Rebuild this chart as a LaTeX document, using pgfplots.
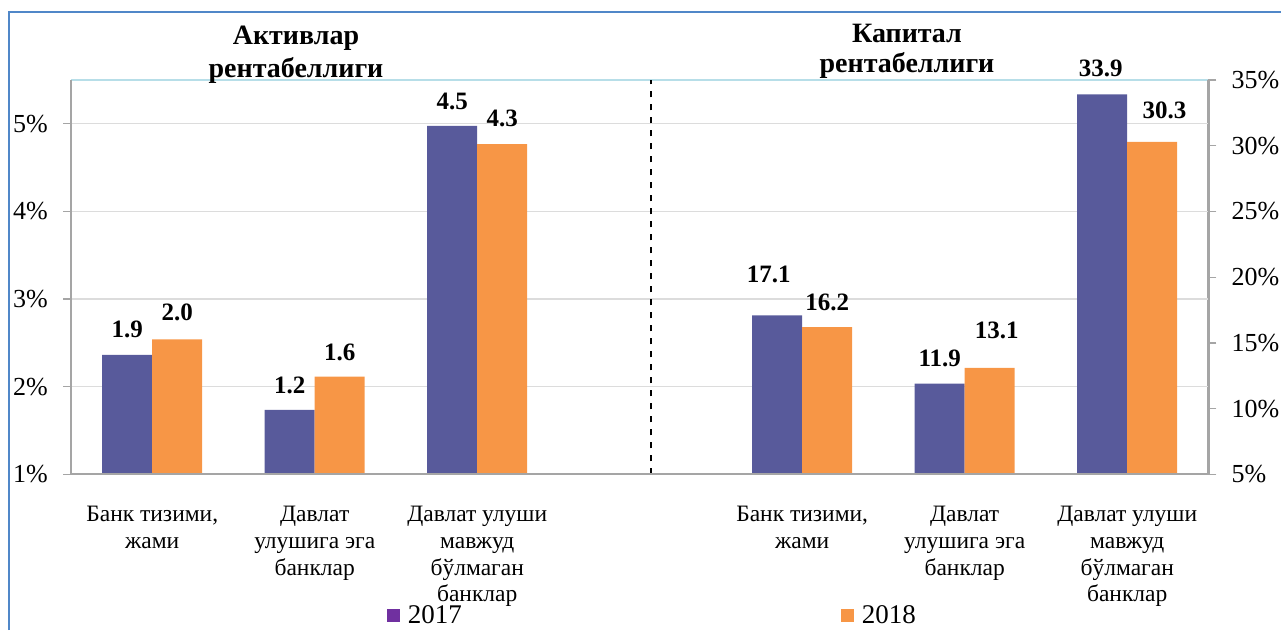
\documentclass[border=0pt]{standalone}
\usepackage{fontspec}
\setmainfont{Liberation Serif}
\usepackage{pgfplots}
\usepackage{pgfplotstable}
\pgfplotsset{compat=1.18}

\definecolor{barA}{RGB}{88,90,155}
\definecolor{barB}{RGB}{247,150,70}
\definecolor{legA}{RGB}{112,48,160}
\definecolor{axgrey}{RGB}{165,165,165}
\definecolor{gridgrey}{RGB}{220,220,220}
\definecolor{topblue}{RGB}{183,222,232}
\definecolor{frameblue}{RGB}{80,135,200}

% left panel (bar heights as drawn on the left scale, labels as printed)
% dx = horizontal label offset from the category centre (pt), dy = gap above bar (pt)
\pgfplotstableread{
x y lab dx dy
0 2.362 1.9 -25 17.5
1 1.734 1.2 -25 16.7
2 4.976 4.5 -25 16.8
}\leftA
\pgfplotstableread{
x y lab dx dy
0 2.541 2.0 25 18.5
1 2.114 1.6 25 16
2 4.767 4.3 25 17.5
}\leftB
% right panel
\pgfplotstableread{
x y lab dx dy
4 17.1 17.1 -33.5 33
5 11.9 11.9 -25 16.7
6 33.9 33.9 -26.5 18.3
}\rightA
\pgfplotstableread{
x y lab dx dy
4 16.2 16.2 25 16.3
5 13.1 13.1 32 29
6 30.3 30.3 37.3 23.3
}\rightB

\pgfplotsset{
  lbl/.style={
    nodes near coords={\pgfplotspointmeta},
    point meta=explicit symbolic,
    visualization depends on={\thisrow{dx} \as \dx},
    visualization depends on={\thisrow{dy} \as \dy},
    every node near coord/.append style={font=\bfseries\fontsize{25}{28}\selectfont,
      anchor=base, inner sep=0pt, xshift=\dx pt, yshift=\dy pt, text=black},
  },
  common/.style={
    at={(71pt,155.7pt)}, anchor=south west,
    width=1137.5pt, height=394.3pt, scale only axis,
    xmin=-0.5, xmax=6.5,
    bar width=50pt,
    tick align=outside, major tick length=8pt,
    ytick style={axgrey, line width=1.3pt},
    yticklabel style={font=\fontsize{26}{30}\selectfont, inner sep=0pt},
  },
}

\begin{document}
\begin{tikzpicture}
\path[use as bounding box] (0pt,0pt) rectangle (1281pt,630pt);

% right scale: grid, right bars, right axis, top line
\begin{axis}[common,
  ymin=5, ymax=35,
  axis x line*=top, axis y line*=right,
  x axis line style={-, topblue, line width=2pt},
  y axis line style={-, axgrey, line width=2.2pt},
  xtick=\empty,
  ytick={5,10,15,20,25,30,35},
  yticklabels={5\%,10\%,15\%,20\%,25\%,30\%,35\%},
  yticklabel style={xshift=15pt},
  extra y ticks={11.6667,18.3333,25,31.6667},
  extra y tick labels={},
  extra y tick style={major tick length=0pt, ymajorgrids=true, major grid style={gridgrey, line width=1.3pt}},
]
\addplot[ybar, bar shift=-25pt, fill=barA, draw=none, lbl] table[x=x, y=y, meta=lab] {\rightA};
\addplot[ybar, bar shift=25pt, fill=barB, draw=none, lbl] table[x=x, y=y, meta=lab] {\rightB};
\end{axis}

% left scale: left bars, left axis, bottom axis, categories, legend
\begin{axis}[common,
  axis on top,
  ymin=1, ymax=5.5,
  axis x line*=bottom, axis y line*=left,
  axis line style={-, axgrey, line width=2.2pt},
  xtick={0,1,2,4,5,6},
  xticklabels={{Банк тизими,\\жами},{Давлат\\улушига эга\\банклар},{Давлат улуши\\мавжуд\\бўлмаган\\банклар},{Банк тизими,\\жами},{Давлат\\улушига эга\\банклар},{Давлат улуши\\мавжуд\\бўлмаган\\банклар}},
  xticklabel style={font=\fontsize{23.5}{26.7}\selectfont, align=center, anchor=north, inner sep=0pt, yshift=-24pt},
  xtick style={draw=none},
  ytick={1,2,3,4,5},
  yticklabels={1\%,2\%,3\%,4\%,5\%},
  yticklabel style={xshift=-15pt},
  legend columns=2,
  legend style={at={(axis description cs:0.2778,-0.3586)}, anchor=west,
    draw=none, fill=none, inner sep=0pt, outer sep=0pt,
    font=\fontsize{27}{30}\selectfont, nodes={inner sep=0pt},
    /tikz/every even column/.append style={column sep=379pt}},
]
\addplot[ybar, bar shift=-25pt, fill=barA, draw=none, lbl,
  legend image code/.code={\fill[legA] (0pt,-6.7pt) rectangle (13.5pt,6.7pt); \path (21pt,0pt);}]
  table[x=x, y=y, meta=lab] {\leftA};
\addlegendentry{2017}
\addplot[ybar, bar shift=25pt, fill=barB, draw=none, lbl,
  legend image code/.code={\fill[barB] (0pt,-6.7pt) rectangle (13.5pt,6.7pt); \path (21pt,0pt);}]
  table[x=x, y=y, meta=lab] {\leftB};
\addlegendentry{2018}
\addplot[forget plot, black, line width=1.4pt, dash pattern=on 6pt off 7pt] coordinates {(3.07,1) (3.07,5.5)};
\end{axis}

% panel titles
\node[anchor=base, font=\bfseries\fontsize{28}{32}\selectfont, inner sep=0pt] at (296pt,585pt) {Активлар};
\node[anchor=base, font=\bfseries\fontsize{28}{32}\selectfont, inner sep=0pt] at (296pt,552.7pt) {рентабеллиги};
\node[anchor=base, font=\bfseries\fontsize{28}{32}\selectfont, inner sep=0pt] at (907pt,587.3pt) {Капитал};
\node[anchor=base, font=\bfseries\fontsize{28}{32}\selectfont, inner sep=0pt] at (907pt,557.5pt) {рентабеллиги};

% chart frame
\draw[frameblue, line width=2pt] (9pt,0pt) -- (9pt,618pt) -- (1281pt,618pt);
\end{tikzpicture}
\end{document}
